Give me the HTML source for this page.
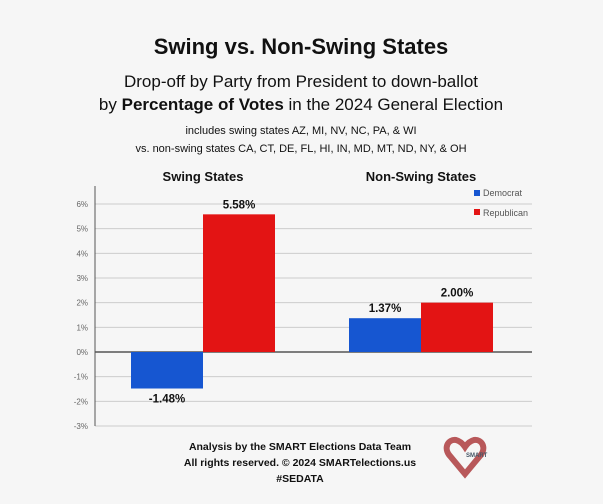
<!DOCTYPE html>
<html><head><meta charset="utf-8"><style>
body{margin:0;background:#f6f6f6;width:603px;height:504px;overflow:hidden;font-family:"Liberation Sans",sans-serif;}
</style></head><body>
<svg width="603" height="504" style="position:absolute;left:0;top:0">
<text x="301" y="54" text-anchor="middle" font-size="22" font-weight="bold" fill="#111">Swing vs. Non-Swing States</text>
<text x="301" y="87" text-anchor="middle" font-size="17" fill="#111">Drop-off by Party from President to down-ballot</text>
<text x="301" y="110" text-anchor="middle" font-size="17" fill="#111">by <tspan font-weight="bold">Percentage of Votes</tspan> in the 2024 General Election</text>
<text x="301" y="134" text-anchor="middle" font-size="11" fill="#111">includes swing states AZ, MI, NV, NC, PA, &amp; WI</text>
<text x="301" y="152" text-anchor="middle" font-size="11" fill="#111">vs. non-swing states CA, CT, DE, FL, HI, IN, MD, MT, ND, NY, &amp; OH</text>
<g id="plot"></g>
<g>
<rect x="474" y="190" width="6" height="6" fill="#1656d1"/>
<text x="483" y="196" font-size="9" fill="#555">Democrat</text>
<rect x="474" y="209" width="6" height="6" fill="#e31414"/>
<text x="483" y="216" font-size="9" fill="#555">Republican</text>
</g>
<text x="300" y="450" text-anchor="middle" font-size="10.5" font-weight="bold" fill="#111">Analysis by the SMART Elections Data Team</text>
<text x="300" y="466" text-anchor="middle" font-size="10.5" font-weight="bold" fill="#111">All rights reserved. © 2024 SMARTelections.us</text>
<text x="300" y="482" text-anchor="middle" font-size="10.5" font-weight="bold" fill="#111">#SEDATA</text>
<g>
<path d="M465 474 L450 456 C443 448 448 439 456 440 C460 441 463 444 465 447 C467 444 470 441 474 440 C482 439 487 448 480 456 Z" fill="none" stroke="#b8585a" stroke-width="6"/>
<text x="466" y="457" font-size="6" font-weight="bold" fill="#456">SMART</text>
</g>
</svg>
<script>
const categories=["Swing States","Non-Swing States"];
const democrat=[-1.48,1.37];
const republican=[5.58,2.00];
const ticks=[6,5,4,3,2,1,0,-1,-2,-3];
const NS="http://www.w3.org/2000/svg";
const g=document.getElementById('plot');
const x0=95,x1=532,groupCenters=[203,421],bw=72;
function y(v){return 352-v*24.67;}
function mk(t,a){const e=document.createElementNS(NS,t);for(const k in a)e.setAttribute(k,a[k]);g.appendChild(e);return e;}
ticks.forEach(t=>{
 const l=mk('line',{x1:x0,x2:x1,y1:y(t),y2:y(t),stroke:t===0?'#555':'#ccc','stroke-width':t===0?1.5:1});
 
 
 const tx=mk('text',{x:88,y:y(t)+3,'text-anchor':'end','font-size':8,fill:'#666'});
 tx.textContent=t+'%';
 
 
});
const ax=mk('line',{x1:x0,x2:x0,y1:186,y2:y(-3),stroke:'#555','stroke-width':1});


categories.forEach((c,i)=>{
 const cx=groupCenters[i];
 const ct=mk('text',{x:cx,y:181,'text-anchor':'middle','font-size':13,'font-weight':'bold',fill:'#111'});
 ct.textContent=c;
 
 
 [[democrat[i],'#1656d1',cx-bw,'democrat'],[republican[i],'#e31414',cx,'republican']].forEach(([v,col,bx,nm])=>{
  const top=Math.min(y(v),y(0)),h=Math.abs(y(v)-y(0));
  const r=mk('rect',{x:bx,y:top,width:bw,height:h,fill:col});
  
  
  const lt=mk('text',{x:bx+bw/2,y:v>=0?y(v)-6:y(v)+14,'text-anchor':'middle','font-size':11.5,'font-weight':'bold',fill:'#111'});
  lt.textContent=v.toFixed(2)+'%';
  
  
 });
});
</script>
</body></html>
